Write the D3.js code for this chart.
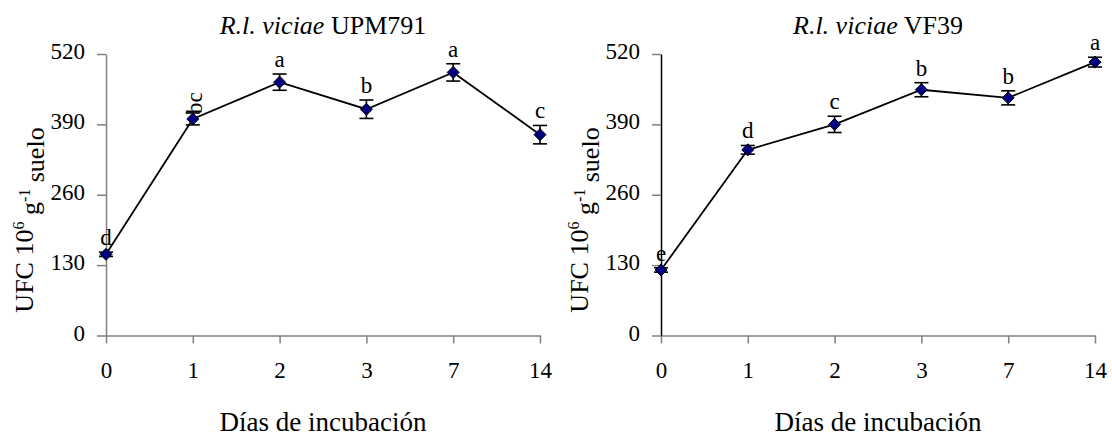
<!DOCTYPE html>
<html>
<head>
<meta charset="utf-8">
<script src="https://cdn.jsdelivr.net/npm/d3@7"></script>
<style>
    body { margin: 0; background: #fff; }
    svg { display: block; }
    svg text { font-family: "Liberation Serif", "Times New Roman", Times, serif !important; fill: #000; }
</style>
</head>
<body>
<svg id="chart" width="1112" height="436" font-family="Liberation Serif"></svg>
<script>
// values (UFC 10^6 g^-1 suelo)
const days = ["0", "1", "2", "3", "7", "14"];
const yTicks = [0, 130, 260, 390, 520];

const upmMean = [150, 400, 468, 418, 486, 371];
const upmErr = [4, 11, 15, 17, 16, 17];
const upmLetters = ["d", "bc", "a", "b", "a", "c"];

const vfMean = [121, 343, 390, 454, 439, 505];
const vfErr = [4, 8, 15, 13, 13, 9];
const vfLetters = ["e", "d", "c", "b", "b", "a"];

const strains = ["UPM791", "VF39"];

const panels = [
    {strain: strains[0], mean: upmMean, err: upmErr, letters: upmLetters, left: 106, yAxisColor: "#808080"},
    {strain: strains[1], mean: vfMean, err: vfErr, letters: vfLetters, left: 661, yAxisColor: "#000"}
];

const FONT = "'Liberation Serif', 'Times New Roman', Times, serif";
const svg = d3.select("#chart");
const plotWidth = 434;
const yTop = 54, yBottom = 335.5;

panels.forEach(p => {
    let g = svg.append("g");

    let x = d3.scalePoint()
        .domain(days)
        .range([p.left, p.left + plotWidth]);

    let y = d3.scaleLinear()
        .domain([0, 520])
        .range([yBottom, yTop]);

    // x axis
    let xAxis = g.append("g")
        .attr("transform", `translate(0,${yBottom})`)
        .call(d3.axisBottom(x).tickSize(8).tickSizeOuter(0))
        .attr("font-family", FONT);
    xAxis.selectAll("path, line").attr("stroke", "#808080").attr("stroke-width", 1.5);
    xAxis.selectAll("text")
        .attr("y", 42).attr("dy", 0)
        .style("font-size", "23px");

    // y axis
    let yAxis = g.append("g")
        .attr("transform", `translate(${p.left},0)`)
        .call(d3.axisLeft(y).tickValues(yTicks).tickSize(9).tickPadding(12).tickSizeOuter(0))
        .attr("font-family", FONT);
    yAxis.select("path").attr("stroke", p.yAxisColor).attr("stroke-width", 1.5);
    yAxis.selectAll("line").attr("stroke", "#808080").attr("stroke-width", 1.5);
    yAxis.selectAll("text")
        .attr("dy", "0.2em")
        .style("font-size", "23px");

    let pts = days.map((d, i) => ({day: d, v: p.mean[i], e: p.err[i], lab: p.letters[i]}));

    // connecting line
    g.append("path")
        .datum(pts)
        .attr("fill", "none")
        .attr("stroke", "#000")
        .attr("stroke-width", 1.8)
        .attr("d", d3.line().x(d => x(d.day)).y(d => y(d.v)));

    // error bars
    let eb = g.selectAll(".err").data(pts).enter().append("g").attr("class", "err")
        .attr("stroke", "#000").attr("stroke-width", 1.6);
    eb.append("line")
        .attr("x1", d => x(d.day)).attr("x2", d => x(d.day))
        .attr("y1", d => y(d.v - d.e)).attr("y2", d => y(d.v + d.e));
    eb.append("line")
        .attr("x1", d => x(d.day) - 7).attr("x2", d => x(d.day) + 7)
        .attr("y1", d => y(d.v + d.e)).attr("y2", d => y(d.v + d.e));
    eb.append("line")
        .attr("x1", d => x(d.day) - 7).attr("x2", d => x(d.day) + 7)
        .attr("y1", d => y(d.v - d.e)).attr("y2", d => y(d.v - d.e));

    // diamonds
    g.selectAll(".pt").data(pts).enter().append("path")
        .attr("class", "pt")
        .attr("transform", d => `translate(${x(d.day)},${y(d.v)})`)
        .attr("d", "M0,-6L6,0L0,6L-6,0Z")
        .attr("fill", "#000080")
        .attr("stroke", "#000")
        .attr("stroke-width", 1);

    // significance letters (longer ones were set vertically in the original)
    g.selectAll(".lab").data(pts).enter().append("text")
        .attr("class", "lab")
        .attr("text-anchor", d => d.lab.length > 1 ? "start" : "middle")
        .attr("transform", d => d.lab.length > 1
            ? `translate(${x(d.day) + 9},${y(d.v + d.e) + 1}) rotate(-90)`
            : `translate(${x(d.day)},${y(d.v + d.e) - 7})`)
        .style("font-family", FONT)
        .style("font-size", "23px")
        .text(d => d.lab);

    // panel title
    let title = g.append("text")
        .attr("x", p.left + plotWidth / 2)
        .attr("y", 34)
        .attr("text-anchor", "middle")
        .style("font-family", FONT)
        .style("font-size", "26px");
    title.append("tspan").style("font-style", "italic").text("R.l. viciae");
    title.append("tspan").text(" " + p.strain);

    // x axis title
    g.append("text")
        .attr("x", p.left + plotWidth / 2)
        .attr("y", 431)
        .attr("text-anchor", "middle")
        .style("font-family", FONT)
        .style("font-size", "27px")
        .text("Días de incubación");

    // y axis title
    let yt = g.append("text")
        .attr("transform", `translate(${p.left - 73},220) rotate(-90)`)
        .attr("text-anchor", "middle")
        .style("font-family", FONT)
        .style("font-size", "26px");
    yt.append("tspan").text("UFC 10");
    yt.append("tspan").attr("dy", "-0.55em").style("font-size", "16px").text("6");
    yt.append("tspan").attr("dy", "0.55em").text(" g");
    yt.append("tspan").attr("dy", "-0.55em").style("font-size", "16px").text("-1");
    yt.append("tspan").attr("dy", "0.55em").text(" suelo");
});
</script>
</body>
</html>
